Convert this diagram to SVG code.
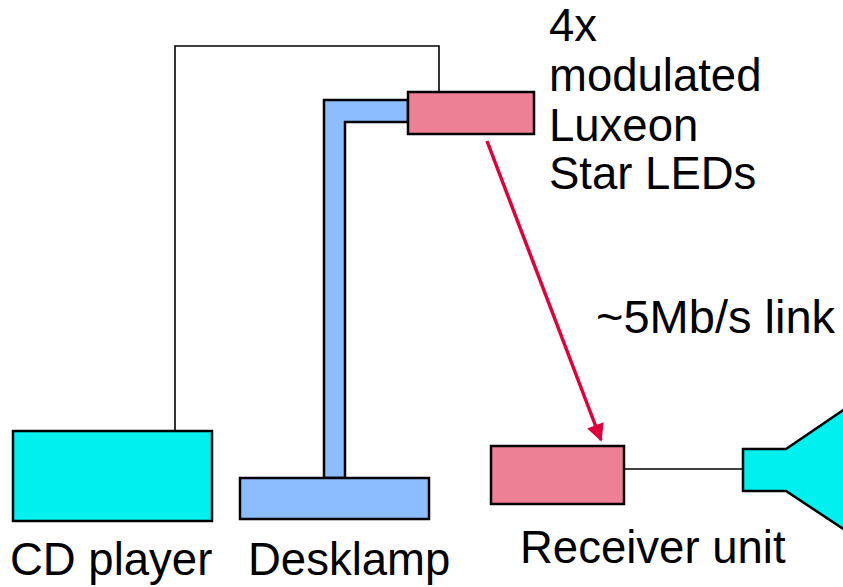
<svg xmlns="http://www.w3.org/2000/svg" width="843" height="587" viewBox="0 0 843 587">
<style>
.box{stroke:#000;stroke-width:2.5}
.cyan{fill:#00F0F0}
.pink{fill:#EE8095}
.blue{fill:#8CBEFF}
.wire{fill:none;stroke:#000;stroke-width:1.6}
.lbl{font-family:"Liberation Sans",Arial,sans-serif;font-size:45.5px;fill:#000}
</style>
<defs>
<marker id="ah" viewBox="0 0 10 10" refX="9" refY="5" markerWidth="6.5" markerHeight="5" markerUnits="strokeWidth" orient="auto">
<path d="M0,0 L10,5 L0,10 Z" fill="#E0003A"/>
</marker>
</defs>
<g id="connectors">
<polyline class="wire" points="175,431 175,46 439,46 439,92"/>
<line class="wire" x1="624" y1="469" x2="743" y2="469"/>
<line x1="487" y1="141" x2="601" y2="440" stroke="#E0003A" stroke-width="3.5" marker-end="url(#ah)"/>
</g>
<g id="cd-player">
<rect class="box cyan" x="13" y="431" width="199" height="90"/>
<text class="lbl" x="10" y="575">CD player</text>
</g>
<g id="desklamp">
<polygon class="box blue" points="324,478 324,100 408,100 408,122 345,122 345,478"/>
<rect class="box blue" x="240" y="478" width="189" height="41"/>
<text class="lbl" x="248" y="575">Desklamp</text>
</g>
<g id="leds">
<rect class="box pink" x="408" y="92" width="126" height="42"/>
<text class="lbl" x="549" y="41">4x</text>
<text class="lbl" x="549" y="91">modulated</text>
<text class="lbl" x="549" y="141">Luxeon</text>
<text class="lbl" x="549" y="189">Star LEDs</text>
</g>
<g id="link-label">
<text class="lbl" x="596" y="333" style="font-size:47px">~5Mb/s link</text>
</g>
<g id="receiver">
<rect class="box pink" x="491" y="446" width="133" height="58"/>
<text class="lbl" x="520" y="563">Receiver unit</text>
</g>
<g id="speaker">
<polygon class="box cyan" points="743,449 786,449 845,409 845,530 786,491 743,491"/>
</g>
</svg>
